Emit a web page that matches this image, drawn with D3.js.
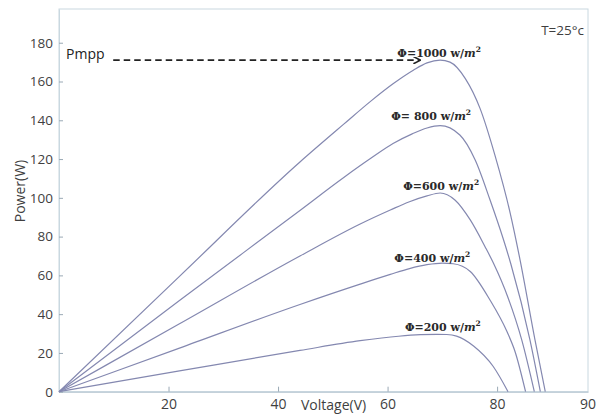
<!DOCTYPE html>
<html>
<head>
<meta charset="utf-8">
<script src="https://cdn.jsdelivr.net/npm/d3@7"></script>
<style>
  html, body { margin: 0; padding: 0; background: #fff; }
  svg { display: block; }
</style>
</head>
<body>
<svg id="chart" width="602" height="415"></svg>
<script>
// ---- data ----
const irradiances = [1000, 800, 600, 400, 200];           // W/m^2
const voltage1000 = [0, 22, 44, 52, 57, 61, 64.7, 67.2, 69.6, 71.4, 74.2, 76.9, 79.6, 82.4, 84.2, 86.9, 88.8];
const power1000   = [0, 59.5, 118.5, 138, 150, 158.8, 165.8, 169.6, 171, 170, 161.5, 146, 122, 92, 67.9, 27, 0];
const voltage800  = [0, 22, 44, 52, 57, 61, 64.5, 67.2, 69.6, 73.2, 76, 78.7, 81.1, 82.5, 86, 87.9];
const power800    = [0, 47, 93.5, 110.5, 120.5, 128, 133, 136, 137.2, 132.4, 119.5, 99, 79, 66, 26.7, 0];
const voltage600  = [0, 22, 44, 55, 60.5, 64, 67.2, 69.6, 72.3, 75.1, 77.8, 79.3, 82, 84.5, 86.8];
const power600    = [0, 35, 70, 86.5, 93.7, 98, 101, 102.5, 98.9, 88.6, 74.8, 66.5, 48.5, 26.7, 0];
const voltage400  = [0, 22, 44, 55, 60.5, 64, 67.2, 70, 72, 75.1, 78.7, 81.8, 83.3, 85.2];
const power400    = [0, 22.5, 45, 55.5, 60.5, 63.5, 65.5, 66.3, 66, 62, 47.3, 31, 20.5, 0];
const voltage200  = [0, 22, 44, 55, 62, 66, 69, 70.8, 72.6, 75.7, 79.3, 82];
const power200    = [0, 10.7, 21.3, 26.3, 28.6, 29.4, 29.6, 29.5, 28.7, 23.6, 13, 0];

const xTicks = [20, 40, 60, 80];
const xEndLabel = "90";
const yTicks = [0, 20, 40, 60, 80, 100, 120, 140, 160, 180];
const xMax = 96.6, yMax = 197.4;
const xTitle = "Voltage(V)", yTitle = "Power(W)";
const tempLabel = "T=25°c";
const mppLabel = "Pmpp";
const mppArrowFrom = 9.9, mppArrowTo = 65.9;  // volts

const seriesData = [
  {g: 1000, v: voltage1000, p: power1000},
  {g: 800,  v: voltage800,  p: power800},
  {g: 600,  v: voltage600,  p: power600},
  {g: 400,  v: voltage400,  p: power400},
  {g: 200,  v: voltage200,  p: power200}
];

// ---- layout ----
const svg = d3.select("#chart");
const mLeft = 59, mRight = 588, mTop = 9, mBottom = 391.7;
const x = d3.scaleLinear().domain([0, xMax]).range([mLeft, mRight]);
const y = d3.scaleLinear().domain([0, yMax]).range([mBottom, mTop]);

const axisFont = "'Open Sans', 'Liberation Sans', sans-serif";
const textColor = "#3f3f3f";

// frame
svg.append("rect")
  .attr("x", mLeft).attr("y", mTop)
  .attr("width", mRight - mLeft).attr("height", mBottom - mTop)
  .attr("fill", "none").attr("stroke", "#c9d8e0").attr("stroke-width", 1);

// x axis
const gx = svg.append("g").attr("transform", `translate(0,${mBottom})`)
  .call(d3.axisBottom(x).tickValues(xTicks).tickSizeInner(-5).tickSizeOuter(0).tickPadding(7));
gx.select(".domain").attr("stroke", "#aebfcc");
gx.selectAll(".tick line").attr("stroke", "#9aa9b5");
gx.selectAll(".tick text").attr("font-size", 14).attr("font-family", axisFont).attr("fill", textColor);
gx.append("text").attr("x", x(xMax)).attr("y", 7).attr("dy", "0.71em")
  .attr("text-anchor", "middle").attr("font-size", 14).attr("font-family", axisFont)
  .attr("fill", textColor).text(xEndLabel);

// y axis
const gy = svg.append("g").attr("transform", `translate(${mLeft},0)`)
  .call(d3.axisLeft(y).tickValues(yTicks).tickSizeInner(-4).tickSizeOuter(0).tickPadding(6));
gy.select(".domain").attr("stroke", "#c9d8e0");
gy.selectAll(".tick line").attr("stroke", "#9aa9b5");
gy.selectAll(".tick text").attr("font-size", 13.5).attr("font-family", axisFont).attr("fill", textColor);

// axis titles
svg.append("text").attr("x", 301).attr("y", 410)
  .attr("font-size", 14).attr("font-family", axisFont).attr("fill", textColor).text(xTitle);
svg.append("text").attr("transform", "translate(25,191) rotate(-90)")
  .attr("text-anchor", "middle")
  .attr("font-size", 14).attr("font-family", axisFont).attr("fill", textColor).text(yTitle);

// curves
const line = d3.line().x(d => x(d[0])).y(d => y(d[1])).curve(d3.curveMonotoneX);
seriesData.forEach(s => {
  const pts = s.v.map((v, i) => [v, s.p[i]]);
  svg.append("path").datum(pts).attr("d", line)
    .attr("fill", "none").attr("stroke", "#8488b0").attr("stroke-width", 1.2);
});

// irradiance labels (placed relative to each curve's maximum)
const labelShift = {1000: [-1, -3.5], 800: [-9, -6], 600: [1, -3], 400: [-10, -1.5], 200: [6, -3.5]};
seriesData.forEach(s => {
  const iMax = d3.maxIndex(s.p);
  const [dx, dy] = labelShift[s.g];
  const t = svg.append("text")
    .attr("x", x(s.v[iMax]) + dx).attr("y", y(s.p[iMax]) + dy)
    .attr("text-anchor", "middle")
    .attr("font-family", "'DejaVu Serif', serif").attr("font-weight", "bold")
    .attr("font-size", 11).attr("fill", "#2a2a2a");
  t.append("tspan").text("Φ=" + (s.g === 800 ? " " : "") + s.g + " w/");
  t.append("tspan").attr("font-style", "italic").text("m");
  t.append("tspan").attr("font-size", 7.5).attr("dy", -5).text("2");
});

// Pmpp dashed arrow
const pMax = d3.max(power1000);
svg.append("defs").append("marker")
  .attr("id", "arrow").attr("viewBox", "0 0 10 10")
  .attr("refX", 9).attr("refY", 5)
  .attr("markerWidth", 4).attr("markerHeight", 4).attr("orient", "auto")
  .append("path").attr("d", "M0,0 L10,5 L0,10").attr("fill", "none")
  .attr("stroke", "#222").attr("stroke-width", 2.2);
svg.append("line")
  .attr("x1", x(mppArrowFrom)).attr("x2", x(mppArrowTo))
  .attr("y1", y(pMax)).attr("y2", y(pMax))
  .attr("stroke", "#222").attr("stroke-width", 1.8)
  .attr("stroke-dasharray", "6.5,4")
  .attr("marker-end", "url(#arrow)");
svg.append("text").attr("x", 66).attr("y", 59)
  .attr("font-size", 14).attr("font-family", axisFont).attr("fill", "#222").text(mppLabel);

// temperature label
svg.append("text").attr("x", 584).attr("y", 35).attr("text-anchor", "end")
  .attr("font-size", 13.5).attr("font-family", axisFont).attr("fill", textColor).text(tempLabel);
</script>
</body>
</html>
